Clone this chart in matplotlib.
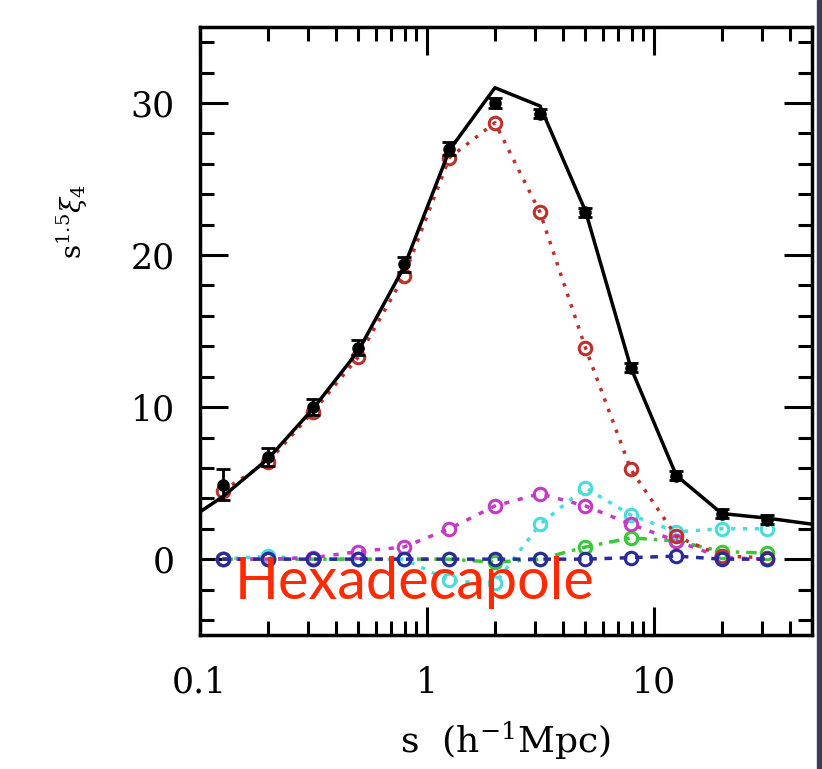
import numpy as np
import matplotlib
matplotlib.use("Agg")
import matplotlib.pyplot as plt
from matplotlib.ticker import FixedLocator, FixedFormatter, LogLocator, MultipleLocator, NullFormatter

# separation bins (h^-1 Mpc)
s = [0.126, 0.2, 0.316, 0.5, 0.794, 1.26, 2.0, 3.16, 5.01, 7.94, 12.6, 20.0, 31.6]

# measured hexadecapole with errors
xi4_data = [4.9, 6.7, 10.0, 13.9, 19.4, 27.0, 30.0, 29.3, 22.8, 12.6, 5.5, 3.0, 2.6]
xi4_err = [1.0, 0.6, 0.5, 0.5, 0.5, 0.4, 0.3, 0.3, 0.3, 0.3, 0.3, 0.3, 0.3]

# model total (solid line), runs to both axis edges
s_model = [0.1, 0.126, 0.2, 0.316, 0.5, 0.794, 1.26, 2.0, 3.16, 5.01, 7.94, 12.6, 20.0, 31.6, 50.0]
xi4_model = [3.1, 4.1, 6.6, 9.9, 13.7, 19.2, 26.9, 31.0, 29.8, 22.9, 12.6, 5.5, 3.0, 2.7, 2.3]

# individual contributions
xi4_red = [4.5, 6.4, 9.7, 13.3, 18.6, 26.4, 28.7, 22.8, 13.9, 5.9, 1.5, 0.2, 0.1]
xi4_magenta = [0.0, 0.0, 0.1, 0.5, 0.8, 2.0, 3.5, 4.3, 3.5, 2.3, 1.2, 0.1, 0.0]
xi4_cyan = [0.0, 0.2, 0.0, 0.0, 0.0, -1.4, -1.6, 2.3, 4.7, 2.9, 1.8, 2.0, 2.0]
xi4_green = [0.0, 0.0, 0.0, 0.0, 0.0, 0.0, -0.2, 0.0, 0.8, 1.4, 1.2, 0.5, 0.4]
xi4_navy = [0.0, 0.0, 0.0, 0.0, 0.0, 0.0, 0.0, 0.0, 0.0, 0.1, 0.2, 0.0, 0.0]

plt.rcParams["font.family"] = "DejaVu Serif"
plt.rcParams["mathtext.fontset"] = "dejavuserif"

fig = plt.figure(figsize=(8.22, 7.69), dpi=100)
ax = fig.add_axes([0.243, 0.174, 0.745, 0.791])

mk = dict(marker="o", markersize=9, markerfacecolor="none", markeredgewidth=2.2)
ax.plot(s, xi4_cyan, color="#48dcdc", linestyle=(0, (1.2, 2.2)), linewidth=2.5, zorder=3, **mk)
ax.plot(s, xi4_green, color="#38c838", linestyle=(0, (3, 2, 1, 2)), linewidth=2.5, zorder=3, **mk)
ax.plot(s, xi4_magenta, color="#c838c8", linestyle=(0, (1.5, 2.5)), linewidth=2.5, zorder=3, **mk)
ax.plot(s, xi4_navy, color="#2a2a9c", linestyle=(0, (2.2, 2.2)), linewidth=2.5, zorder=4, **mk)
ax.plot(s, xi4_red, color="#c0302a", linestyle=(0, (1, 2.2)), linewidth=2.5, zorder=3, **mk)

ax.plot(s_model, xi4_model, color="black", linewidth=2.5, zorder=5)
ax.errorbar(s, xi4_data, yerr=xi4_err, fmt="o", color="black", markersize=8,
            elinewidth=2, capsize=5, capthick=2, zorder=6)

ax.set_xscale("log")
ax.set_xlim(0.1, 50)
ax.set_ylim(-5, 35)

ax.xaxis.set_major_locator(FixedLocator([0.1, 1, 10]))
ax.xaxis.set_major_formatter(FixedFormatter(["0.1", "1", "10"]))
ax.xaxis.set_minor_locator(LogLocator(base=10, subs=np.arange(2, 10)))
ax.xaxis.set_minor_formatter(NullFormatter())
ax.yaxis.set_major_locator(MultipleLocator(10))
ax.yaxis.set_minor_locator(MultipleLocator(2))

ax.tick_params(which="both", direction="in", top=True, right=True, width=2.2)
ax.tick_params(which="major", length=20, labelsize=25)
ax.tick_params(axis="x", which="major", pad=22)
ax.tick_params(axis="y", which="major", pad=18)
ax.tick_params(which="minor", length=10)
for sp in ax.spines.values():
    sp.set_linewidth(2.5)

ax.set_xlabel(r"s  (h$^{-1}$Mpc)", fontsize=26, labelpad=14)
ax.set_ylabel(r"s$^{1.5}\xi_4$", fontsize=20)
ax.yaxis.set_label_coords(-0.18, 0.68)

ax.text(0.057, 0.06, "Hexadecapole", transform=ax.transAxes, fontsize=41.5,
        family="Lato", color="#ff2a00", va="baseline", ha="left", zorder=10)

# dark strip along the right edge
fig.patches.append(plt.Rectangle((0.994, 0), 0.006, 1, transform=fig.transFigure,
                                 color="#3c3c58", zorder=0))

fig.savefig("out.png", dpi=100)
